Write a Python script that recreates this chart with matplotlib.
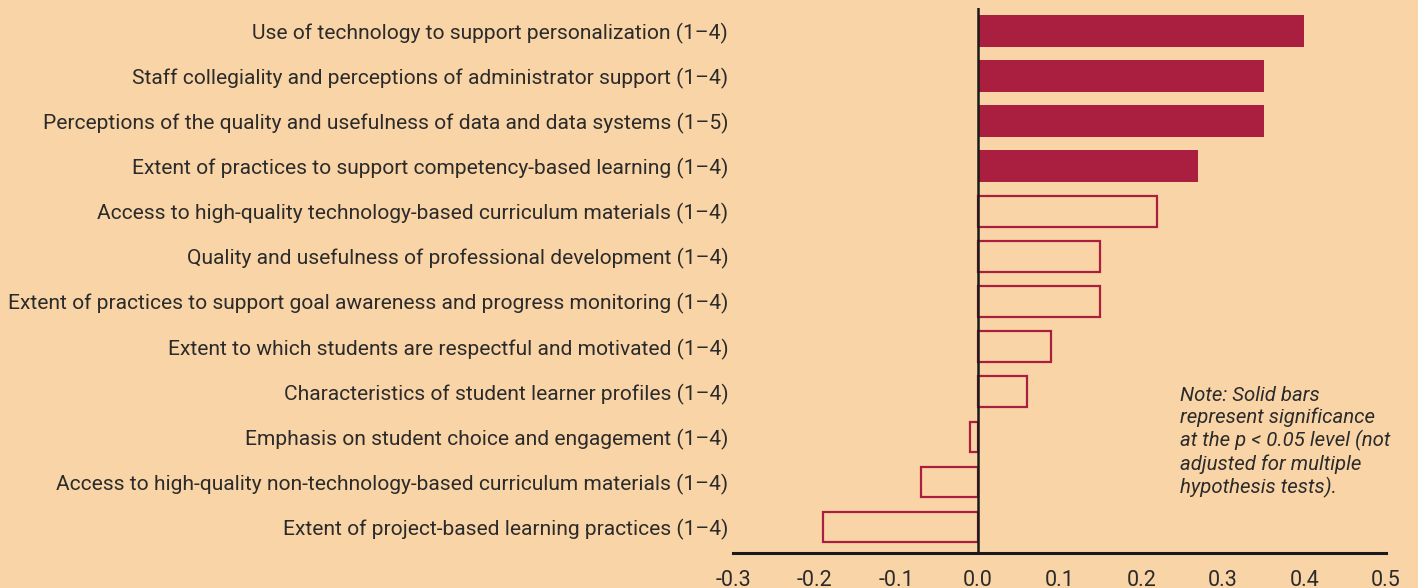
import matplotlib
matplotlib.use("Agg")
import matplotlib.pyplot as plt

categories = [
    "Use of technology to support personalization (1–4)",
    "Staff collegiality and perceptions of administrator support (1–4)",
    "Perceptions of the quality and usefulness of data and data systems (1–5)",
    "Extent of practices to support competency-based learning (1–4)",
    "Access to high-quality technology-based curriculum materials (1–4)",
    "Quality and usefulness of professional development (1–4)",
    "Extent of practices to support goal awareness and progress monitoring (1–4)",
    "Extent to which students are respectful and motivated (1–4)",
    "Characteristics of student learner profiles (1–4)",
    "Emphasis on student choice and engagement (1–4)",
    "Access to high-quality non-technology-based curriculum materials (1–4)",
    "Extent of project-based learning practices (1–4)",
]
values = [0.40, 0.35, 0.35, 0.27, 0.22, 0.15, 0.15, 0.09, 0.06, -0.01, -0.07, -0.19]
significant = [True, True, True, True, False, False, False, False, False, False, False, False]
xticks = [-0.3, -0.2, -0.1, 0.0, 0.1, 0.2, 0.3, 0.4, 0.5]
xticklabels = ["-0.3", "-0.2", "-0.1", "0.0", "0.1", "0.2", "0.3", "0.4", "0.5"]
note = "Note: Solid bars\nrepresent significance\nat the p < 0.05 level (not\nadjusted for multiple\nhypothesis tests)."

bg = "#F9D4A6"
red = "#AA1E40"
txt = "#2B2B2B"
plt.rcParams['font.family'] = ['Roboto', 'DejaVu Sans']

W, H = 1418, 588
fig = plt.figure(figsize=(W / 100, H / 100), dpi=100, facecolor=bg)
ax = fig.add_axes([733 / W, (H - 553) / H, (1386 - 733) / W, (553 - 8) / H])
ax.set_facecolor(bg)

ys = list(range(len(categories)))
for y, v, s in zip(ys, values, significant):
    if s:
        ax.barh(y, v, height=0.71, color=red, edgecolor=red, linewidth=0)
    else:
        ax.barh(y, v, height=0.68, facecolor="none", edgecolor=red, linewidth=1.6)

ax.axvline(0, color="#1a1a1a", linewidth=1.8, zorder=5)
ax.set_xlim(-0.3, 0.5)
ax.set_ylim(11.576, -0.51)
ax.set_yticks(ys)
ax.set_yticklabels(categories, fontsize=15.1, color=txt)
ax.set_xticks(xticks)
ax.set_xticklabels(xticklabels, fontsize=15.5, color=txt)
ax.tick_params(axis='both', length=0)
ax.tick_params(axis='y', pad=3.5)
ax.tick_params(axis='x', pad=12)
for sp in ["top", "right", "left"]:
    ax.spines[sp].set_visible(False)
ax.spines["bottom"].set_color("#1a1a1a")
ax.spines["bottom"].set_linewidth(2.2)

fig.text(1180 / W, 1 - 386 / H, note, fontsize=14.7, style="italic", color=txt,
         ha="left", va="top", linespacing=1.18)

fig.savefig("out.png", dpi=100, facecolor=bg)
